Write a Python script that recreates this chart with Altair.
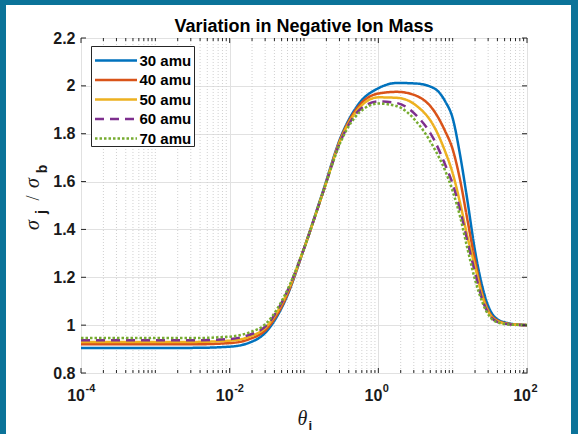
import altair as alt
import pandas as pd

# ---------------- data ----------------
theta = [0.0001, 0.001, 0.00316, 0.01, 0.0178, 0.0316, 0.0562, 0.1, 0.178, 0.316,
         0.562, 1.0, 1.78, 3.16, 5.62, 7.94, 10.0, 12.6, 15.8, 20.0, 25.1, 31.6,
         39.8, 56.2, 100.0]

amu30 = [0.905, 0.905, 0.905, 0.910, 0.925, 0.975, 1.105, 1.320, 1.555, 1.790,
         1.930, 1.990, 2.012, 2.010, 1.990, 1.935, 1.865, 1.710, 1.520, 1.310,
         1.160, 1.065, 1.025, 1.008, 1.000]
amu40 = [0.920, 0.920, 0.920, 0.925, 0.940, 0.985, 1.110, 1.320, 1.550, 1.785,
         1.920, 1.968, 1.975, 1.960, 1.895, 1.810, 1.735, 1.606, 1.440, 1.270,
         1.130, 1.050, 1.020, 1.006, 1.000]
amu50 = [0.930, 0.930, 0.930, 0.935, 0.950, 0.995, 1.120, 1.320, 1.550, 1.780,
         1.910, 1.952, 1.950, 1.920, 1.830, 1.725, 1.635, 1.510, 1.370, 1.245,
         1.120, 1.045, 1.017, 1.005, 1.000]
amu60 = [0.937, 0.937, 0.937, 0.942, 0.958, 1.000, 1.125, 1.320, 1.550, 1.775,
         1.900, 1.935, 1.928, 1.880, 1.775, 1.670, 1.590, 1.480, 1.350, 1.220,
         1.105, 1.040, 1.014, 1.004, 1.000]
amu70 = [0.946, 0.946, 0.946, 0.952, 0.968, 1.010, 1.130, 1.320, 1.550, 1.770,
         1.890, 1.926, 1.915, 1.855, 1.740, 1.645, 1.560, 1.453, 1.320, 1.190,
         1.095, 1.035, 1.012, 1.003, 1.000]

series_names = ["30 amu", "40 amu", "50 amu", "60 amu", "70 amu"]
series_vals = [amu30, amu40, amu50, amu60, amu70]
colors = ["#0072BD", "#D95319", "#EDB120", "#7E2F8E", "#77AC30"]
dashes = [[1, 0], [1, 0], [1, 0], [9, 6], [2.5, 2]]

x_major = [0.0001, 0.01, 1.0, 100.0]
x_exp = ["-4", "-2", "0", "2"]
x_minor = [m * 10.0 ** e for e in range(-4, 2) for m in range(1, 10)
           if not (m == 1 and e % 2 == 0)]
y_ticks = [0.8, 1.0, 1.2, 1.4, 1.6, 1.8, 2.0, 2.2]

# ---------------- layout ----------------
W, H = 446, 335
PAD = {"left": 81, "top": 38, "right": 51, "bottom": 61}
AX = "#262626"
BORDER = "#0b7399"
SANS = "Liberation Sans"
SERIF = "Liberation Serif"

rows = []
for k, (name, vals) in enumerate(zip(series_names, series_vals)):
    for t, v in zip(theta, vals):
        rows.append({"theta": t, "ratio": v, "series": name, "k": k})
df = pd.DataFrame(rows)

xs = alt.Scale(type="log", domain=[0.0001, 100])
ys = alt.Scale(domain=[0.8, 2.2], zero=False)
x_axis = alt.Axis(values=x_major, labels=False, ticks=False, domain=False, grid=True,
                  gridColor="#e1e1e1", gridWidth=1, title=None)
y_axis = alt.Axis(values=y_ticks, format="~g", labelFont=SANS, labelFontWeight="bold",
                  labelFontSize=16, labelColor="#1a1a1a", labelPadding=6,
                  labelFlush=False, labelOverlap=False, ticks=False, domain=False,
                  grid=True, gridColor="#e1e1e1", gridWidth=1, title=None)
one = pd.DataFrame({"a": [0]})

minor_df = pd.DataFrame({"t": x_minor})
major_df = pd.DataFrame({"t": x_major, "e": x_exp})
ytick_df = pd.DataFrame({"v": y_ticks})


def X(f):
    return alt.X(f, scale=xs, axis=x_axis)


def Y(f):
    return alt.Y(f, scale=ys, axis=y_axis)


minor_grid = alt.Chart(minor_df).mark_rule(
    color="#d0d0d0", strokeDash=[1, 2], strokeWidth=1
).encode(x=X("t:Q"))

curves = alt.Chart(df).mark_line(
    strokeWidth=2.5, interpolate="monotone", clip=True
).encode(
    x=X("theta:Q"),
    y=Y("ratio:Q"),
    color=alt.Color("series:N", scale=alt.Scale(domain=series_names, range=colors), legend=None),
    strokeDash=alt.StrokeDash("series:N", scale=alt.Scale(domain=series_names, range=dashes), legend=None),
    order=alt.Order("k:Q"),
)

# tick marks (inward, MATLAB style)
tick_layers = []
for y0, y1 in [(H, H - 3), (0, 3)]:
    tick_layers.append(alt.Chart(minor_df).mark_rule(color=AX, strokeWidth=1).encode(
        x=X("t:Q"), y=alt.value(y0), y2=alt.value(y1)))
for y0, y1 in [(H, H - 5), (0, 5)]:
    tick_layers.append(alt.Chart(major_df).mark_rule(color=AX, strokeWidth=1).encode(
        x=X("t:Q"), y=alt.value(y0), y2=alt.value(y1)))
for x0, x1 in [(0, 5), (W, W - 5)]:
    tick_layers.append(alt.Chart(ytick_df).mark_rule(color=AX, strokeWidth=1).encode(
        y=Y("v:Q"), x=alt.value(x0), x2=alt.value(x1)))

# x tick labels 10^n
base_lbl = alt.Chart(major_df).mark_text(
    text="10", font=SANS, fontWeight="bold", fontSize=16, color="#1a1a1a",
    align="right", baseline="alphabetic", dx=4
).encode(x=X("t:Q"), y=alt.value(H + 28))
exp_lbl = alt.Chart(major_df).mark_text(
    font=SANS, fontWeight="bold", fontSize=11, color="#1a1a1a",
    align="left", baseline="alphabetic", dx=4.5
).encode(x=X("t:Q"), y=alt.value(H + 19), text="e:N")


# titles
def txt(s, x, y, **kw):
    return alt.Chart(one).mark_text(text=s, **kw).encode(x=alt.value(x), y=alt.value(y))


title = txt("Variation in Negative Ion Mass", W / 2, -6.5, font=SANS, fontWeight="bold",
            fontSize=18, color="#000000", align="center", baseline="alphabetic")
xt1 = txt("\u03b8", 221.5, 387, font=SERIF, fontStyle="italic", fontSize=20,
          color="#1a1a1a", align="center", baseline="alphabetic")
xt2 = txt("i", 227.5, 392, font=SANS, fontWeight="bold", fontSize=13,
          color="#1a1a1a", align="left", baseline="alphabetic")
yl = [
    txt("\u03c3", -42, 187, font=SERIF, fontStyle="italic", fontSize=20, angle=270,
        color="#1a1a1a", align="center", baseline="alphabetic"),
    txt("j", -35, 174, font=SANS, fontWeight="bold", fontSize=14, angle=270,
        color="#1a1a1a", align="center", baseline="alphabetic"),
    txt("/", -42, 160, font=SERIF, fontSize=18, angle=270,
        color="#1a1a1a", align="center", baseline="alphabetic"),
    txt("\u03c3", -42, 145, font=SERIF, fontStyle="italic", fontSize=20, angle=270,
        color="#1a1a1a", align="center", baseline="alphabetic"),
    txt("b", -34, 131, font=SANS, fontWeight="bold", fontSize=14, angle=270,
        color="#1a1a1a", align="center", baseline="alphabetic"),
]

# legend (drawn box)
leg = [alt.Chart(one).mark_rect(fill="white", stroke=AX, strokeWidth=1).encode(
    x=alt.value(10.5), x2=alt.value(113.5), y=alt.value(8.5), y2=alt.value(108.5))]
row_y = [22.5, 42, 61.5, 81, 100.5]
for name, c, d, ry in zip(series_names, colors, dashes, row_y):
    leg.append(alt.Chart(one).mark_rule(color=c, strokeWidth=2.5, strokeDash=d).encode(
        x=alt.value(14), x2=alt.value(56), y=alt.value(ry)))
    leg.append(txt(name, 58.5, ry, font=SANS, fontWeight="bold", fontSize=15,
                   color="#000000", align="left", baseline="middle"))

# blue frame around the figure
border = [
    alt.Chart(one).mark_rect(color=BORDER).encode(
        x=alt.value(-81), x2=alt.value(497), y=alt.value(-38), y2=alt.value(-33)),
    alt.Chart(one).mark_rect(color=BORDER).encode(
        x=alt.value(-81), x2=alt.value(-75), y=alt.value(-38), y2=alt.value(396)),
    alt.Chart(one).mark_rect(color=BORDER).encode(
        x=alt.value(490), x2=alt.value(497), y=alt.value(-38), y2=alt.value(396)),
]

chart = alt.layer(
    minor_grid, curves, *tick_layers, base_lbl, exp_lbl, title, xt1, xt2, *yl, *leg, *border
).properties(
    width=W, height=H, padding=PAD, autosize=alt.AutoSizeParams(type="none"),
    background="white",
).configure_view(stroke=AX, strokeWidth=1)

chart.save("out.html", embed_options={"renderer": "svg", "actions": False})
